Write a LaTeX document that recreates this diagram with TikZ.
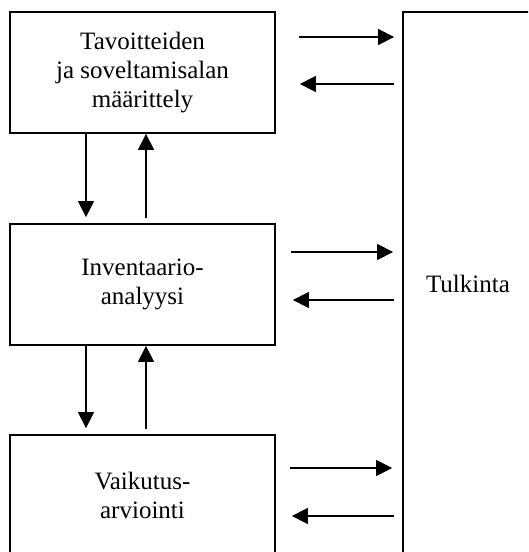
\documentclass[tikz,border=0pt]{standalone}
\usepackage{fontspec}
\setmainfont{Liberation Serif}
\usepackage{tikz}
\usetikzlibrary{arrows.meta,positioning}

\begin{document}
\begin{tikzpicture}[x=1pt,y=-1pt,
    every node/.style={font=\fontsize{25}{29}\selectfont},
    stage/.style={draw,line width=1.8pt,minimum width=265pt,minimum height=121pt,align=center,inner sep=0pt},
    arr/.style={-{Triangle[length=16pt,width=16pt]},line width=1.4pt}]
  \useasboundingbox (0,0) rectangle (528,552);
  \clip (0,0) rectangle (528,552);
  \node[stage] (goal) at (142.5,72.5) {Tavoitteiden\\ja soveltamisalan\\määrittely};
  \node[stage] (inv) at (142.5,284.5) {Inventaario-\\analyysi};
  \node[stage] (imp) at (142.5,495.5) {Vaikutus-\\arviointi};
  \node[draw,line width=1.8pt,minimum width=130pt,minimum height=544pt,inner sep=0pt] (tulk) at (468,284) {Tulkinta};
  % alas ja ylos
  \draw[arr,shorten >=6pt] (goal.south -| 86,0) -- (inv.north -| 86,0);
  \draw[arr,shorten <=5pt] (inv.north -| 146,0) -- (goal.south -| 146,0);
  \draw[arr,shorten >=6pt] (inv.south -| 86,0) -- (imp.north -| 86,0);
  \draw[arr,shorten <=5pt] (imp.north -| 146,0) -- (inv.south -| 146,0);
  % tulkintaan ja takaisin
  \draw[arr,shorten <=23pt,shorten >=8pt] (goal.east |- 0,37) -- (tulk.west |- 0,37);
  \draw[arr,shorten <=8pt,shorten >=24pt] (tulk.west |- 0,84) -- (goal.east |- 0,84);
  \draw[arr,shorten <=15pt,shorten >=9pt] (inv.east |- 0,252) -- (tulk.west |- 0,252);
  \draw[arr,shorten <=8pt,shorten >=17pt] (tulk.west |- 0,300) -- (inv.east |- 0,300);
  \draw[arr,shorten <=14pt,shorten >=10pt] (imp.east |- 0,468) -- (tulk.west |- 0,468);
  \draw[arr,shorten <=8pt,shorten >=16pt] (tulk.west |- 0,516) -- (imp.east |- 0,516);
\end{tikzpicture}
\end{document}
